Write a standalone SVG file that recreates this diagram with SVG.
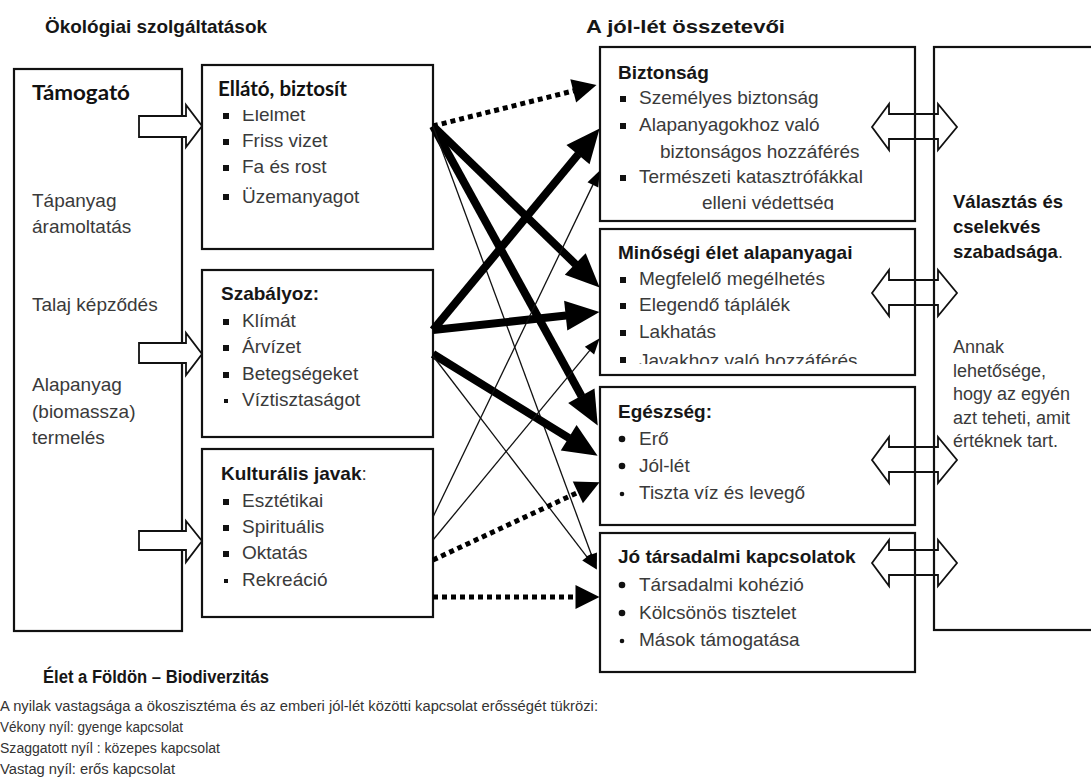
<svg xmlns="http://www.w3.org/2000/svg" width="1091" height="781" viewBox="0 0 1091 781">
<style>
.box{fill:#fff;stroke:#111;stroke-width:2.2}
.ol{fill:none;stroke:#111;stroke-width:1.8;stroke-linejoin:miter}
.blk{fill:#fff;stroke:#111;stroke-width:1.8}
.t{font-family:"Liberation Sans",Arial,sans-serif;font-size:19px;fill:#3a3a3a}
.b{font-family:"Liberation Sans",Arial,sans-serif;font-size:19px;font-weight:bold;fill:#161616}
.c{font-family:Lato,"Open Sans",sans-serif;font-size:21px;font-weight:bold;fill:#111}
.s{font-family:"Liberation Sans",Arial,sans-serif;font-size:18px;fill:#3a3a3a}
.sb{font-family:"Liberation Sans",Arial,sans-serif;font-size:18.5px;font-weight:bold;fill:#161616}
.lg{font-family:"Liberation Sans",Arial,sans-serif;font-size:14px;fill:#333}
.thick{stroke:#000;stroke-width:8;fill:none}
.thin{stroke:#111;stroke-width:1.3;fill:none}
.dot{stroke:#000;stroke-width:5;stroke-dasharray:5 4;fill:none}
.bul{fill:#111}
</style>
<defs>
<marker id="mThick" markerUnits="userSpaceOnUse" markerWidth="36" markerHeight="32" viewBox="0 -16 36 32" refX="0.5" refY="0" orient="auto" overflow="visible"><path d="M0,-15 L34,0 L0,15 Z" fill="#000"/></marker>
<marker id="mDot" markerUnits="userSpaceOnUse" markerWidth="26" markerHeight="26" viewBox="0 -13 26 26" refX="0.5" refY="0" orient="auto" overflow="visible"><path d="M0,-12 L24,0 L0,12 Z" fill="#000"/></marker>
<marker id="mThin" markerUnits="userSpaceOnUse" markerWidth="18" markerHeight="14" viewBox="0 -7 18 14" refX="0.5" refY="0" orient="auto" overflow="visible"><path d="M0,-6 L16,0 L0,6 Z" fill="#000"/></marker>
<clipPath id="clipEl"><rect x="202" y="110" width="231" height="100"/></clipPath>
<clipPath id="clipVed"><rect x="600" y="190" width="315" height="20"/></clipPath>
<clipPath id="clipJav"><rect x="600" y="340" width="315" height="24"/></clipPath>
</defs>
<rect width="1091" height="781" fill="#fff"/>

<text class="b" x="45" y="33" textLength="222" lengthAdjust="spacingAndGlyphs">Ökológiai szolgáltatások</text>
<text class="b" x="586" y="33" textLength="199" lengthAdjust="spacingAndGlyphs">A jól-lét összetevői</text>

<g id="node-tamogato">
<rect class="box" x="14" y="69" width="168" height="562"/>
<text class="c" x="32" y="100" textLength="98" lengthAdjust="spacingAndGlyphs">Támogató</text>
<text class="t" x="32" y="207">Tápanyag</text>
<text class="t" x="32" y="233">áramoltatás</text>
<text class="t" x="32" y="311">Talaj képződés</text>
<text class="t" x="32" y="391">Alapanyag</text>
<text class="t" x="32" y="418">(biomassza)</text>
<text class="t" x="32" y="444">termelés</text>
</g>

<g id="node-ellato">
<rect class="box" x="202" y="65" width="231" height="184"/>
<text class="c" x="218" y="96" textLength="129" lengthAdjust="spacingAndGlyphs">Ellátó, biztosít</text>
<rect class="bul" x="223" y="113" width="6" height="6"/>
<text class="t" x="242" y="121" clip-path="url(#clipEl)">Élelmet</text>
<rect class="bul" x="223" y="139" width="6" height="6"/>
<text class="t" x="242" y="147">Friss vizet</text>
<rect class="bul" x="223" y="165" width="6" height="6"/>
<text class="t" x="242" y="173">Fa és rost</text>
<rect class="bul" x="223" y="194" width="6" height="6"/>
<text class="t" x="242" y="203">Üzemanyagot</text>
</g>

<g id="node-szabalyoz">
<rect class="box" x="202" y="270" width="231" height="167"/>
<text class="b" x="221" y="300">Szabályoz:</text>
<rect class="bul" x="223" y="319" width="6" height="6"/>
<text class="t" x="242" y="327">Klímát</text>
<rect class="bul" x="223" y="345" width="6" height="6"/>
<text class="t" x="242" y="353">Árvízet</text>
<rect class="bul" x="223" y="372" width="6" height="6"/>
<text class="t" x="242" y="380">Betegségeket</text>
<rect class="bul" x="224" y="399" width="4" height="4"/>
<text class="t" x="242" y="406">Víztisztaságot</text>
</g>

<g id="node-kulturalis">
<rect class="box" x="202" y="449" width="231" height="168"/>
<text class="b" x="221" y="480">Kulturális javak<tspan class="t" style="font-weight:normal">:</tspan></text>
<rect class="bul" x="223" y="499" width="6" height="6"/>
<text class="t" x="242" y="507">Esztétikai</text>
<rect class="bul" x="223" y="525" width="6" height="6"/>
<text class="t" x="242" y="533">Spirituális</text>
<rect class="bul" x="223" y="551" width="6" height="6"/>
<text class="t" x="242" y="559">Oktatás</text>
<rect class="bul" x="224" y="579" width="4" height="4"/>
<text class="t" x="242" y="586">Rekreáció</text>
</g>

<g id="block-arrows">
<path class="blk" d="M139,116 H186 V105 L202,126 L186,147 V137 H139 Z"/>
<path class="blk" d="M139,343 H186 V333 L202,354 L186,375 V363 H139 Z"/>
<path class="blk" d="M139,531 H186 V521 L202,541 L186,562 V550 H139 Z"/>
</g>

<g id="node-biztonsag">
<rect class="box" x="600" y="47" width="315" height="174"/>
<text class="b" x="618" y="79">Biztonság</text>
<rect class="bul" x="620" y="96" width="6" height="6"/>
<text class="t" x="639" y="104">Személyes biztonság</text>
<rect class="bul" x="620" y="123" width="6" height="6"/>
<text class="t" x="639" y="131">Alapanyagokhoz való</text>
<text class="t" x="660" y="158">biztonságos hozzáférés</text>
<rect class="bul" x="620" y="175" width="6" height="6"/>
<text class="t" x="639" y="183">Természeti katasztrófákkal</text>
<text class="t" x="702" y="209" clip-path="url(#clipVed)">elleni védettség</text>
</g>

<g id="node-minosegi">
<rect class="box" x="600" y="229" width="315" height="146"/>
<text class="b" x="618" y="259">Minőségi élet alapanyagai</text>
<rect class="bul" x="620" y="277" width="6" height="6"/>
<text class="t" x="639" y="285">Megfelelő megélhetés</text>
<rect class="bul" x="620" y="303" width="6" height="6"/>
<text class="t" x="639" y="311">Elegendő táplálék</text>
<rect class="bul" x="620" y="330" width="6" height="6"/>
<text class="t" x="639" y="338">Lakhatás</text>
<rect class="bul" x="620" y="357" width="6" height="6"/>
<text class="t" x="639" y="367" clip-path="url(#clipJav)">Javakhoz való hozzáférés</text>
</g>

<g id="node-egeszseg">
<rect class="box" x="600" y="387" width="315" height="138"/>
<text class="b" x="618" y="418">Egészség:</text>
<circle class="bul" cx="622" cy="439" r="3.3"/>
<text class="t" x="639" y="445">Erő</text>
<circle class="bul" cx="622" cy="466" r="3.3"/>
<text class="t" x="639" y="472">Jól-lét</text>
<circle class="bul" cx="622" cy="494" r="2.3"/>
<text class="t" x="639" y="499">Tiszta víz és levegő</text>
</g>

<g id="node-tarsadalmi">
<rect class="box" x="600" y="533" width="315" height="139"/>
<text class="b" x="618" y="563">Jó társadalmi kapcsolatok</text>
<circle class="bul" cx="622" cy="585" r="3.3"/>
<text class="t" x="639" y="591">Társadalmi kohézió</text>
<circle class="bul" cx="622" cy="613" r="3.3"/>
<text class="t" x="639" y="619">Kölcsönös tisztelet</text>
<circle class="bul" cx="622" cy="641" r="2.3"/>
<text class="t" x="639" y="646">Mások támogatása</text>
</g>

<g id="node-szabadsag">
<rect class="box" x="934" y="47" width="200" height="583"/>
<text class="sb" x="953" y="208">Választás és</text>
<text class="sb" x="953" y="233">cselekvés</text>
<text class="sb" x="953" y="258">szabadsága<tspan class="s" style="font-weight:normal">.</tspan></text>
<text class="s" x="953" y="353">Annak</text>
<text class="s" x="953" y="377">lehetősége,</text>
<text class="s" x="953" y="400">hogy az egyén</text>
<text class="s" x="953" y="424">azt teheti, amit</text>
<text class="s" x="953" y="447">értéknek tart.</text>
</g>

<g id="double-arrows">
<path class="ol" d="M872,127 L889,104 V114 H938 V104 L957,127 L938,150 V139 H889 V150 Z"/>
<path class="ol" d="M872,293 L889,270 V280 H938 V270 L957,293 L938,316 V305 H889 V316 Z"/>
<path class="ol" d="M872,460 L889,437 V447 H938 V437 L957,460 L938,483 V472 H889 V483 Z"/>
<path class="ol" d="M872,563 L889,540 V550 H938 V540 L957,563 L938,586 V575 H889 V586 Z"/>
</g>

<g id="connectors">
<path class="dot" d="M433,126 L573.7,90.8" marker-end="url(#mDot)"/>
<path class="thick" d="M433,126 L575.6,264.3" marker-end="url(#mThick)"/>
<path class="thick" d="M433,126 L581.6,396.2" marker-end="url(#mThick)"/>
<path class="thin" d="M433,126 L591.5,555" marker-end="url(#mThin)"/>
<path class="thick" d="M433,330 L578.3,154.2" marker-end="url(#mThick)"/>
<path class="thick" d="M433,330 L566.2,315.6" marker-end="url(#mThick)"/>
<path class="thick" d="M433,354 L569.1,438.1" marker-end="url(#mThick)"/>
<path class="thin" d="M433,356 L587.3,557.3" marker-end="url(#mThin)"/>
<path class="thin" d="M433,517 L593.1,184.4" marker-end="url(#mThin)"/>
<path class="thin" d="M433,540 L589.8,350.3" marker-end="url(#mThin)"/>
<path class="dot" d="M433,560 L578.3,492.2" marker-end="url(#mDot)"/>
<path class="dot" d="M433,597 L576,597" marker-end="url(#mDot)"/>
</g>

<text class="b" x="43" y="683" style="font-size:17.5px" textLength="226" lengthAdjust="spacingAndGlyphs">Élet a Földön – Biodiverzitás</text>
<g id="legend">
<text class="lg" x="0" y="711" textLength="598" lengthAdjust="spacingAndGlyphs">A nyilak vastagsága a ökoszisztéma és az emberi jól-lét közötti kapcsolat erősségét tükrözi:</text>
<text class="lg" x="0" y="732" textLength="183" lengthAdjust="spacingAndGlyphs">Vékony nyíl: gyenge kapcsolat</text>
<text class="lg" x="0" y="753" textLength="220" lengthAdjust="spacingAndGlyphs">Szaggatott nyíl : közepes kapcsolat</text>
<text class="lg" x="0" y="774" textLength="175" lengthAdjust="spacingAndGlyphs">Vastag nyíl: erős kapcsolat</text>
</g>
</svg>
